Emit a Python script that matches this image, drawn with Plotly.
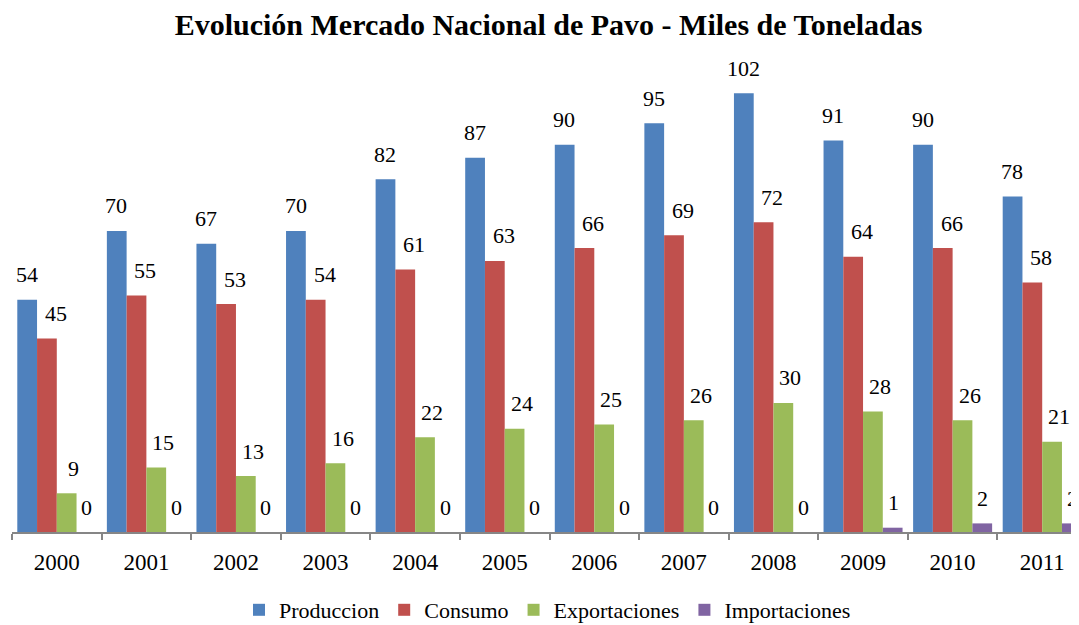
import plotly.graph_objects as go

years = ["2000", "2001", "2002", "2003", "2004", "2005", "2006", "2007", "2008", "2009", "2010", "2011"]
produccion = [54, 70, 67, 70, 82, 87, 90, 95, 102, 91, 90, 78]
consumo = [45, 55, 53, 54, 61, 63, 66, 69, 72, 64, 66, 58]
exportaciones = [9, 15, 13, 16, 22, 24, 25, 26, 30, 28, 26, 21]
importaciones = [0, 0, 0, 0, 0, 0, 0, 0, 0, 1, 2, 2]

series = [
    ("Produccion", produccion, "#4F81BD", -30),
    ("Consumo", consumo, "#C0504D", -1),
    ("Exportaciones", exportaciones, "#9BBB59", 17),
    ("Importaciones", importaciones, "#8064A2", 30),
]

FONT = "Liberation Serif, Times New Roman, serif"

fig = go.Figure()
annotations = []
for name, vals, color, xs in series:
    fig.add_trace(go.Bar(
        x=years, y=vals, name=name,
        marker=dict(color=color, line=dict(width=0)),
    ))
    for i, v in enumerate(vals):
        annotations.append(dict(
            x=i, y=v, xref="x", yref="y", text=str(v), showarrow=False,
            xshift=xs, yshift=25, yanchor="middle", xanchor="center",
            font=dict(family=FONT, size=22, color="#000000"),
        ))

fig.update_layout(
    width=1079, height=625,
    margin=dict(l=4, r=0, t=62, b=101, autoexpand=False),
    paper_bgcolor="white", plot_bgcolor="white",
    barmode="group", bargap=0.118, bargroupgap=0,
    title=dict(
        text="<b>Evolución Mercado Nacional de Pavo - Miles de Toneladas</b>",
        x=0.501, xanchor="center", y=1 - 16 / 625, yanchor="middle", yref="container",
        font=dict(family=FONT, size=30, color="#000000"),
    ),
    xaxis=dict(
        type="category", range=[-0.5, 11.5], automargin=False,
        showline=True, linecolor="#868686", linewidth=1.5,
        ticks="outside", tickson="boundaries", ticklen=6, tickcolor="#868686", tickwidth=1.5,
        tickfont=dict(family=FONT, size=23, color="#000000"),
        ticklabelstandoff=9,
        showgrid=False,
    ),
    yaxis=dict(range=[0, 107.4], visible=False, showgrid=False, zeroline=False, automargin=False),
    showlegend=True,
    legend=dict(
        orientation="h", x=0.5, xanchor="center", xref="container",
        y=1 - 602 / 625, yanchor="middle", yref="container",
        font=dict(family=FONT, size=22, color="#000000"),
        itemwidth=30, tracegroupgap=0,
    ),
    annotations=annotations,
)

fig.write_html("out.html")
